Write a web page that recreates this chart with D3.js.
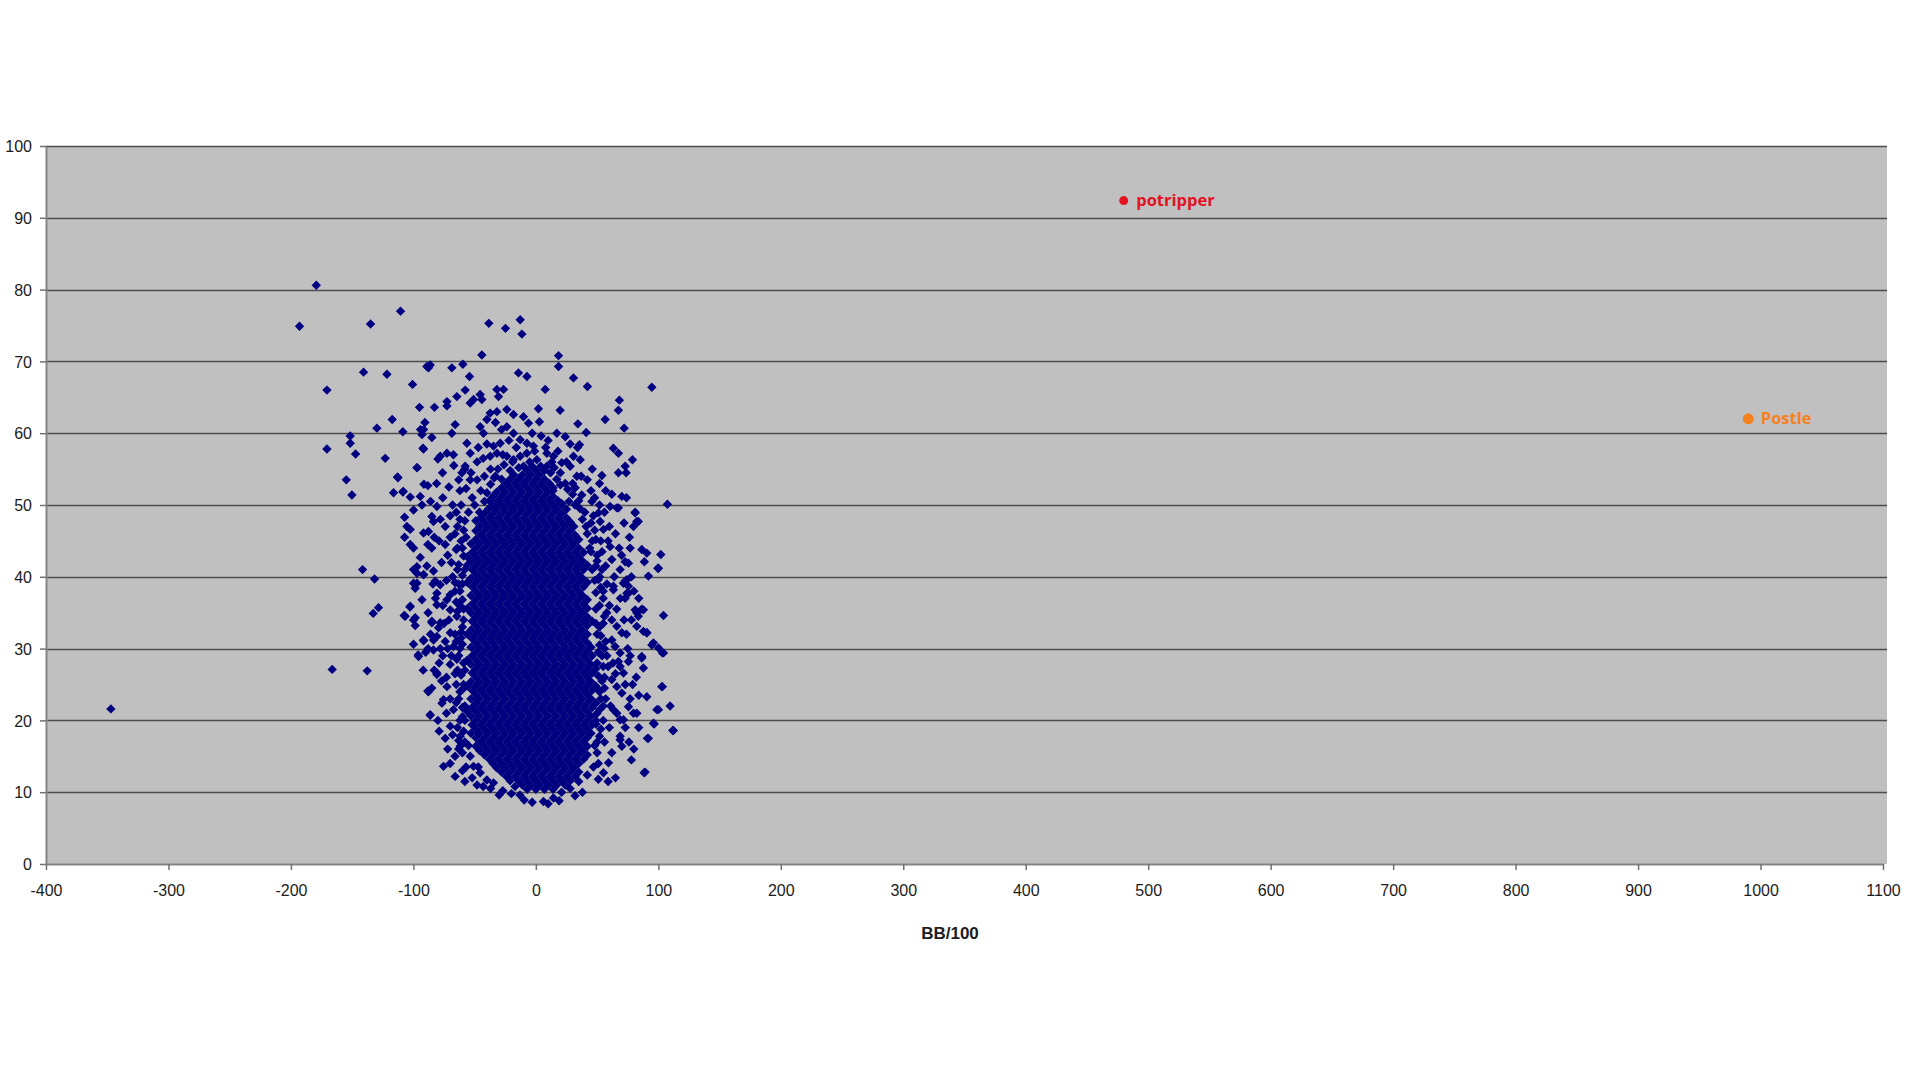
<!DOCTYPE html>
<html><head><meta charset="utf-8">
<script src="https://cdn.jsdelivr.net/npm/d3@7"></script>
<style>html,body{margin:0;padding:0;background:#fff}svg{display:block}</style>
</head><body>
<svg id="chart" width="1920" height="1080"></svg>
<script>
// ---------- data ----------
const xTicks = [-400,-300,-200,-100,0,100,200,300,400,500,600,700,800,900,1000,1100];
const yTicks = [0,10,20,30,40,50,60,70,80,90,100];
const xTitle = "BB/100";

// dense core of the cloud, read row by row: [vertical value, horizontal values of the points in that row]
const clusterRows = [
[10.4,[-7,0,7,14]],
[11.0,[-11,-4,3,10,17,24]],
[11.6,[-21,-14,-7,0,7,14,21,28]],
[12.2,[-24,-17,-10,-3,4,11,18,25,32]],
[12.8,[-28,-21,-14,-7,0,7,14,21,28,35]],
[13.4,[-32,-25,-18,-11,-4,3,10,17,24,31]],
[14.0,[-35,-28,-21,-14,-7,0,7,14,21,28,35]],
[14.6,[-38,-31,-24,-17,-10,-3,4,11,18,25,32,39]],
[15.2,[-42,-35,-28,-21,-14,-7,0,7,14,21,28,35,42]],
[15.8,[-46,-39,-32,-25,-18,-11,-4,3,10,17,24,31,38]],
[16.4,[-49,-42,-35,-28,-21,-14,-7,0,7,14,21,28,35,42]],
[17.0,[-45,-38,-31,-24,-17,-10,-3,4,11,18,25,32,39]],
[17.6,[-49,-42,-35,-28,-21,-14,-7,0,7,14,21,28,35,42]],
[18.2,[-53,-46,-39,-32,-25,-18,-11,-4,3,10,17,24,31,38,45]],
[18.8,[-49,-42,-35,-28,-21,-14,-7,0,7,14,21,28,35,42]],
[19.4,[-52,-45,-38,-31,-24,-17,-10,-3,4,11,18,25,32,39,46]],
[20.0,[-49,-42,-35,-28,-21,-14,-7,0,7,14,21,28,35,42,49]],
[20.6,[-53,-46,-39,-32,-25,-18,-11,-4,3,10,17,24,31,38,45]],
[21.2,[-56,-49,-42,-35,-28,-21,-14,-7,0,7,14,21,28,35,42]],
[21.8,[-52,-45,-38,-31,-24,-17,-10,-3,4,11,18,25,32,39,46]],
[22.4,[-49,-42,-35,-28,-21,-14,-7,0,7,14,21,28,35,42,49]],
[23.0,[-53,-46,-39,-32,-25,-18,-11,-4,3,10,17,24,31,38,45]],
[23.6,[-49,-42,-35,-28,-21,-14,-7,0,7,14,21,28,35,42]],
[24.2,[-52,-45,-38,-31,-24,-17,-10,-3,4,11,18,25,32,39,46]],
[24.8,[-56,-49,-42,-35,-28,-21,-14,-7,0,7,14,21,28,35,42,49]],
[25.4,[-53,-46,-39,-32,-25,-18,-11,-4,3,10,17,24,31,38,45]],
[26.0,[-49,-42,-35,-28,-21,-14,-7,0,7,14,21,28,35,42]],
[26.6,[-52,-45,-38,-31,-24,-17,-10,-3,4,11,18,25,32,39,46]],
[27.2,[-49,-42,-35,-28,-21,-14,-7,0,7,14,21,28,35,42,49]],
[27.8,[-53,-46,-39,-32,-25,-18,-11,-4,3,10,17,24,31,38,45]],
[28.4,[-56,-49,-42,-35,-28,-21,-14,-7,0,7,14,21,28,35,42]],
[29.0,[-52,-45,-38,-31,-24,-17,-10,-3,4,11,18,25,32,39,46]],
[29.6,[-49,-42,-35,-28,-21,-14,-7,0,7,14,21,28,35,42]],
[30.2,[-53,-46,-39,-32,-25,-18,-11,-4,3,10,17,24,31,38,45]],
[30.8,[-49,-42,-35,-28,-21,-14,-7,0,7,14,21,28,35,42]],
[31.4,[-52,-45,-38,-31,-24,-17,-10,-3,4,11,18,25,32,39]],
[32.0,[-56,-49,-42,-35,-28,-21,-14,-7,0,7,14,21,28,35,42]],
[32.6,[-53,-46,-39,-32,-25,-18,-11,-4,3,10,17,24,31,38]],
[33.2,[-49,-42,-35,-28,-21,-14,-7,0,7,14,21,28,35,42]],
[33.8,[-52,-45,-38,-31,-24,-17,-10,-3,4,11,18,25,32,39,46]],
[34.4,[-49,-42,-35,-28,-21,-14,-7,0,7,14,21,28,35,42]],
[35.0,[-53,-46,-39,-32,-25,-18,-11,-4,3,10,17,24,31,38]],
[35.6,[-56,-49,-42,-35,-28,-21,-14,-7,0,7,14,21,28,35,42]],
[36.2,[-52,-45,-38,-31,-24,-17,-10,-3,4,11,18,25,32,39]],
[36.8,[-49,-42,-35,-28,-21,-14,-7,0,7,14,21,28,35,42]],
[37.4,[-53,-46,-39,-32,-25,-18,-11,-4,3,10,17,24,31,38]],
[38.0,[-49,-42,-35,-28,-21,-14,-7,0,7,14,21,28,35]],
[38.6,[-52,-45,-38,-31,-24,-17,-10,-3,4,11,18,25,32,39]],
[39.2,[-56,-49,-42,-35,-28,-21,-14,-7,0,7,14,21,28,35,42]],
[39.8,[-53,-46,-39,-32,-25,-18,-11,-4,3,10,17,24,31,38]],
[40.4,[-49,-42,-35,-28,-21,-14,-7,0,7,14,21,28,35]],
[41.0,[-52,-45,-38,-31,-24,-17,-10,-3,4,11,18,25,32,39]],
[41.6,[-56,-49,-42,-35,-28,-21,-14,-7,0,7,14,21,28,35,42]],
[42.2,[-53,-46,-39,-32,-25,-18,-11,-4,3,10,17,24,31,38]],
[42.8,[-56,-49,-42,-35,-28,-21,-14,-7,0,7,14,21,28,35]],
[43.4,[-52,-45,-38,-31,-24,-17,-10,-3,4,11,18,25,32,39]],
[44.0,[-49,-42,-35,-28,-21,-14,-7,0,7,14,21,28,35]],
[44.6,[-53,-46,-39,-32,-25,-18,-11,-4,3,10,17,24,31]],
[45.2,[-49,-42,-35,-28,-21,-14,-7,0,7,14,21,28,35]],
[45.8,[-45,-38,-31,-24,-17,-10,-3,4,11,18,25,32]],
[46.4,[-49,-42,-35,-28,-21,-14,-7,0,7,14,21,28]],
[47.0,[-46,-39,-32,-25,-18,-11,-4,3,10,17,24,31]],
[47.6,[-42,-35,-28,-21,-14,-7,0,7,14,21,28]],
[48.2,[-45,-38,-31,-24,-17,-10,-3,4,11,18,25]],
[48.8,[-42,-35,-28,-21,-14,-7,0,7,14,21]],
[49.4,[-39,-32,-25,-18,-11,-4,3,10,17]],
[50.0,[-35,-28,-21,-14,-7,0,7,14,21]],
[50.6,[-38,-31,-24,-17,-10,-3,4,11,18]],
[51.2,[-35,-28,-21,-14,-7,0,7,14]],
[51.8,[-32,-25,-18,-11,-4,3,10]],
[52.4,[-28,-21,-14,-7,0,7,14]],
[53.0,[-24,-17,-10,-3,4,11]],
[53.6,[-28,-21,-14,-7,0,7]],
[54.2,[-18,-11,-4,3]],
[54.8,[-21,-7,0,7]],
[55.4,[-10,-3,4]]
];

// scattered players around the core: [BB/100, value]
const scatterPoints = [
[-347,21.6],[-179.3,80.6],[-193,74.9],[-135,75.2],[-110.5,77.0],[-87.7,69.1],[-86.3,69.5],[-140.7,68.5],[-121.6,68.2],[-170.6,66.0],
[-100.7,66.8],[-95,63.6],[-82.8,63.6],[-117.3,61.9],[-90.6,61.5],[-129.8,60.7],[-108.6,60.2],[-94.2,60.5],[-93,59.8],[-84.9,59.4],
[-151.6,59.6],[-151.6,58.6],[-170.6,57.8],[-147.2,57.1],[-123,56.5],[-91.7,57.8],[-96.9,55.2],[-80,56.4],[-154.8,53.5],[-112.6,53.8],
[-91.4,52.9],[-88.2,52.7],[-150.2,51.4],[-116.2,51.7],[-108.3,51.9],[-102.6,51.1],[-94.4,51.2],
[-141.5,41.0],[-131.7,39.7],[-128.5,35.7],[-132.8,34.9],[-166.3,27.1],[-137.7,26.9],[-102.8,35.8],[-107.5,34.6],[-98.5,34.3],
[-98.5,33.2],[-99.9,30.6],[-96.1,29.1],[-88.2,24.1],[-86.3,20.8],[-80.8,26.4],
[-107.2,48.3],[-105.3,47.0],[-102.6,46.6],[-107.2,45.5],[-102.6,44.5],[-99.9,44.0],[-94.4,42.7],[-88.2,44.5],[-91.7,46.1],[-87.7,46.3],
[-84.9,48.4],[-83.6,47.7],[-99.9,49.3],[-93,50.0],[-80.8,49.8],[-99.9,41.0],[-97.1,41.4],[-91.7,40.3],[-83.6,40.8],[-97.1,39.1],
[-98.5,38.4],[-82.2,39.4],[-80.8,36.1],[-84.9,33.6],[-83.6,29.8],[-80.8,31.7],[-91.7,31.1],
[-38.4,75.3],[-24.8,74.6],[-12.8,75.8],[-11.4,73.8],[-44.1,70.9],[18.5,70.8],[18.5,69.3],[-89,69.3],[-68.6,69.1],[-59.6,69.6],
[-54.2,67.9],[-14.2,68.4],[-7.3,67.9],[30.7,67.7],[42.1,66.5],[94.7,66.4],[7.6,66.1],[-57.7,66.0],[-64.5,65.1],[-72.6,64.4],
[-72.6,63.8],[-53.6,64.2],[-50.9,64.7],[-45.5,65.4],[-44.1,64.7],[-31.8,66.1],[-26.4,66.1],[-30.5,65.1],[2.1,63.4],[19.8,63.2],
[68.2,64.6],[67.4,63.2],[56.6,61.9],[72.1,60.7],[34.3,61.3],[41.1,60.1],[2.9,61.6],[17.1,60.0],[4.3,59.6],[35.6,58.4],
[36.2,56.3],[63.3,57.9],[67.4,57.2],[78.9,56.3],[53.9,54.1],[67.4,54.5],[73.7,54.5],[72.9,55.4],[70.2,51.2],[107.4,50.1],
[60.6,49.8],[67.4,49.6],[81.1,49.0],[52.5,47.7],[82.4,47.7],[79.7,47.0],[76.4,45.5],[86.5,43.8],[90.6,43.3],[102.0,43.1],
[100.1,41.2],[91.9,40.1],
[-113,53.9],[-108.6,51.8],[-92.2,57.9],[-91.7,60.5],[-76.2,54.5],[-97.1,55.2],[-78.1,56.8],[-72.6,57.2],[-67.3,57.0],[-65.9,61.2],
[-68.6,60.0],[-56.3,58.6],[-53.6,57.2],[-57.7,55.4],[-60.4,54.5],[-53.6,53.5],
[-45.5,60.9],[-40.0,61.9],[-42.8,60.0],[-37.3,62.8],[-31.8,63.0],[-23.7,63.3],[-18.3,62.6],[-10.1,62.3],[-6.0,61.4],[-23.7,60.9],
[-18.3,60.0],[-12.8,59.1],[-7.3,58.6],[-2.0,58.2],
[-34.6,58.2],[-29.1,58.6],[-37.3,56.8],[-31.8,57.2],[-23.7,56.8],[-18.3,56.3],[-12.8,56.8],[-7.3,57.2],[0.8,56.3],[9.0,57.2],
[14.4,56.8],[21.2,55.9],[28.0,55.4],[30.7,56.8],[33.5,54.0],
[81.1,48.9],[83.7,47.7],[88.6,42.1],[99.6,41.2],[72.9,42.1],[75.6,41.9],[72.9,39.4],[75.6,37.7],[104.2,34.6],[81.1,35.4],
[86.5,35.5],[83.7,34.5],[82.4,33.1],[87.8,32.4],[90.6,32.2],[94.7,30.5],[100.1,30.1],[103.3,29.4],[86.5,28.9],[87.8,27.3],
[75.6,28.2],[68.8,29.4],[67.4,28.2],[103.3,24.7],[90.6,23.3],[100.1,21.5],[109.6,22.0],[96.6,19.5],[111.8,18.6],[91.1,17.5],
[75.6,21.9],[82.4,21.0],[55.2,12.7],[88.4,12.7],[68.8,17.3],[70.2,16.4],[62.0,15.5],[59.3,14.1],[66.1,21.0],[68.8,20.1],
[62.0,25.7],[66.1,24.7],[70.2,23.8],[68.8,27.5],[71.5,26.6],[62.0,31.2],[64.7,30.3],[57.9,35.0],[62.0,34.0],[66.1,33.1],
[70.2,32.2],[63.3,38.2],[72.9,37.0],[75.6,38.7],[62.0,42.4],[68.8,41.0],[55.2,46.6],[60.6,44.2],[51.1,48.9],[32.1,52.4],
[37.5,51.4],[45.7,50.5],[66.1,49.6],
[-106.7,34.5],[-102.6,35.9],[-99.9,34.0],[-95.8,28.9],[-91.7,31.2],[-83.6,31.2],[-87.7,24.0],[-76.7,22.4],[-86.3,20.7],[-75.4,13.6],
[-65.9,12.2],[-80.8,26.6],[-72.6,24.7],[-75.4,22.9],[-78.1,33.6],[-84.9,33.8],[-79.5,32.9],[-97.1,40.5],[-91.7,40.3],[-99.9,39.1],
[-80.8,37.7],[-78.1,38.9],[-72.6,36.8],[-69.9,35.4],[-64.5,34.5],[-69.9,32.2],[-67.3,30.3],[-64.5,28.5],[-67.3,21.5],[-69.9,19.2],
[-61.8,17.8],[-61.8,16.4],[-53.6,15.0],[-50.9,13.6],[-45.5,12.7],[-40.0,11.7],[-34.6,11.3],
[87.8,35.4],[82.4,35.0],[90.6,32.2],[96.0,30.8],[104.2,29.4],[86.5,28.7],[102.8,24.7],[98.8,21.5],[96.0,19.6],[112.3,18.6],
[91.9,17.5],[89.2,12.8],[74.3,37.7],[71.5,39.1],[63.3,38.7],[74.3,39.6],[68.8,17.8],[79.7,21.0],[71.5,20.1],[63.3,21.5],
[-9.5,8.9],[6.2,8.7],[14.4,9.2],
[-62,48],[-66,46],[-60,44],[-70,45.5],[-64,41],[-72,43],[-60,39],[-66,38],[-62,36],[-60,33],
[-72,30],[-62,30],[-58,27],[-66,26.5],[-62,24],[-58,22],[-64,19],[-58,20],[-70,27.8],[-76,29],
[-74,17.5],[-66,15],[-57,13.5],[-48,11],[-27,10.2],[-20,9.8],[28,10.5],[35,11.5],[42,12.4],[47,13.5],
[50,15.5],[52,17.8],[55,20],[53,23],[56,26],[54,29],[57,31],[52,33],[55,37],[52,40],
[57,41.5],[50,43],[46,45],[45,47.5],[40,49],[27,50.5],[24,53],[20,54.5],[13,56],[-45,52],
[-50,50],[-42,54],[-48,56],[-27,57],[-3,60],[10,59],[24,59.5],[48,51],[42,53.5],[-62,52],
[-68,50],[-74,47],[-85,44],[-77,42],[-82,37],[-88,30],[-79,28],[-92,27],[-79,18.5],[-70,14],
[-58,11.5],[75,30],[79,25],[72,34],[78,40],[68,44],[60,47],[84,23.5],[78,14.5],[65,12],
[-58,55],[-63,53.5],[-67,55.5],[-71,52.5],[-76,51],[-81,53],[-86,50.5],[-65,49],[-70,48.5],[-78,48],
[-83,45.5],[-59,46.5],[-64,44],[-69,42],[-74,44.5],[-79,45],[-89,41.5],[-84,39],[-58,41],[-63,39],
[-68,40],[-73,39.5],[-76,36],[-70,37.5],[-65,36.5],[-59,35.5],[-88,35],[-93,36.8],[-75,33.5],[-71,34],
[-66,32],[-61,31.5],[-74,31],[-78,30],[-86,32],[-90,29.5],[-69,29],[-64,27],[-59,25],[-73,26],
[-77,25.5],[-83,27],[-85,24.5],[-70,23],[-65,22.5],[-60,20.5],[-73,21],[-80,20],[-68,18],[-63,16],
[-72,16],[-58,17],[-55,16.5],[-60,13],[-52,12],[-47,13.5],[-43,10.8],[-37,10.5],[-30,9.6],[-17,10.8],
[-13,9.6],
[48,16.5],[51,14],[56,17],[60,19],[49,19.5],[52,21.5],[57,23],[61,22],[50,24.5],[54,25.5],
[59,27.5],[63,28],[50,28],[52,30.5],[58,29],[65,26.5],[73,25],[77,23],[50,32],[55,33.5],
[60,36],[66,35.5],[69,37],[49,35.5],[53,38.5],[58,39],[64,40],[70,43],[48,39.5],[49,41.5],
[54,43.5],[59,45],[65,46],[72,47.5],[44,44],[48,46.5],[52,50],[57,52],[62,51.5],[41,47],
[36,49.5],[32,50],[30,53],[37,54],[25,56],[18,57.5],[8,58],[-1,57.5],[-16,58],[-22,59],
[-28,60.5],[-33,61.5],[-40,58.5],[-47,58],[-43,56.5],[-37,55],[-33,54],[34,58],[28,58.5],[46,55],
[52,53],[45,52],[56,49],[74,51],[77,44],[80,38],[84,37],[78,34],[74,32],[77,29],
[82,26],[73,19],[76,17],[80,16],[84,19],[59,11.5],[51,11.8],[38,10],[32,9.5],[21,10],
[19,8.8],[-3,8.6],[10,8.4],
[-60,15.5],[-63,17.2],[-59,18.5],[-62,20],[-60,21.8],[-63,23],[-60,24.3],[-65,25],[-61,26.3],[-59,28],
[-63,29],[-60,30.6],[-65,31],[-61,32.3],[-59,34],[-64,35.2],[-60,36.8],[-62,38],[-66,39.2],[-60,40.2],
[-63,41.7],[-59,42.9],[-65,43.8],[-61,45],[-57,45.5],[-64,47],[-58,47.8],[-55,49],[-61,50],[-52,51],
[-57,52.3],[-48,53.5],[-53,54.5],
[50,17],[53,18.8],[50,21],[55,22],[52,24],[56,24.5],[51,26.2],[55,27.5],[51,29.5],[56,30],
[53,31.8],[49,33.5],[56,34.5],[52,36],[49,37.8],[55,38],[51,39.6],[46,41],[54,41],[50,42.2],
[45,43.5],[53,45],[49,45.2],[42,46],[47,48.5],[38,48],[35,50.6],[30,51.5],[26,52.2],[20,52.8],
[17,53.6],[12,54.5],[15,55.2],
[-42,50.5],[-46,49],[-49,47.8],[-40,51.7],[-37,52.9],[-34,53.8],[-31,55],[-26,55.6],[-19,56],[-14,55.2],
[-5,56],[9,55.4],[14,52],[21,50.2],[25,49.4],[28,47.6]
];

// highlighted players
const namedPlayers = ["potripper", "Postle"];
const namedBB = [480, 990];
const namedValue = [92.4, 62.0];

// ---------- drawing ----------
const svg = d3.select("#chart");
const plot = {left: 46, right: 1883, top: 146, bottom: 864};
const x = d3.scaleLinear().domain([xTicks[0], xTicks[xTicks.length-1]]).range([plot.left, plot.right]);
const y = d3.scaleLinear().domain([yTicks[0], yTicks[yTicks.length-1]]).range([plot.bottom, plot.top]);

const points = [];
clusterRows.forEach(([v, xs]) => xs.forEach(b => points.push([b, v])));
scatterPoints.forEach(p => points.push(p));

// plot area
svg.append("rect")
  .attr("x", plot.left).attr("y", plot.top)
  .attr("width", plot.right - plot.left + 4).attr("height", plot.bottom - plot.top)
  .attr("fill", "#c0c0c0");

// gridlines
svg.append("g").selectAll("line").data(yTicks.filter(d => d > 0)).join("line")
  .attr("x1", plot.left).attr("x2", plot.right + 4)
  .attr("y1", d => Math.round(y(d)) + 0.5).attr("y2", d => Math.round(y(d)) + 0.5)
  .attr("stroke", "#4d4d4d").attr("stroke-width", 1.6);

const font = "'Liberation Sans', Arial, sans-serif";

// axes
const gx = svg.append("g").attr("transform", `translate(0,${plot.bottom})`)
  .call(d3.axisBottom(x).tickValues(xTicks).tickSize(6).tickSizeOuter(0).tickFormat(d => String(d)));
const gy = svg.append("g").attr("transform", `translate(${plot.left},0)`)
  .call(d3.axisLeft(y).tickValues(yTicks).tickSize(6).tickSizeOuter(0).tickFormat(d => String(d)));
[gx, gy].forEach(g => {
  g.select(".domain").attr("stroke", "#858585").attr("stroke-width", 2);
  g.selectAll(".tick line").attr("stroke", "#707070").attr("stroke-width", 1.5);
  g.selectAll(".tick text").attr("font-family", font).attr("font-size", 16).attr("fill", "#1c1c1c");
});
gx.selectAll(".tick text").attr("y", 32).attr("dy", null);
gy.selectAll(".tick text").attr("x", -14).attr("dy", "0.35em");

// axis title
svg.append("text").attr("x", 950).attr("y", 939)
  .attr("text-anchor", "middle").attr("font-family", font)
  .attr("font-size", 17).attr("font-weight", "bold").attr("fill", "#1c1c1c")
  .text(xTitle);

// scatter markers (diamonds)
const r = 4.7;
svg.append("g").selectAll("path").data(points).join("path")
  .attr("transform", d => `translate(${x(d[0])},${y(d[1])})`)
  .attr("d", `M0,${-r}L${r},0L0,${r}L${-r},0Z`)
  .attr("fill", "#000080");

// highlighted players
const namedColors = ["#e3121f", "#f5821f"];
const namedRadius = [4.5, 5.5];
const gn = svg.append("g");
namedPlayers.forEach((name, i) => {
  const cx = x(namedBB[i]), cy = y(namedValue[i]);
  gn.append("circle").attr("cx", cx).attr("cy", cy).attr("r", namedRadius[i]).attr("fill", namedColors[i]);
  gn.append("text").attr("x", cx + 12.5).attr("y", cy).attr("dy", "0.33em")
    .attr("font-family", "'Open Sans', sans-serif").attr("font-weight", "bold")
    .attr("font-size", 16.5).attr("fill", namedColors[i]).text(name);
});
</script>
</body></html>
